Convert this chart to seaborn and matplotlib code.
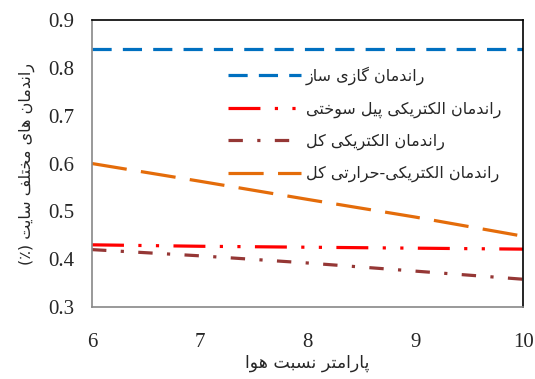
import matplotlib
matplotlib.use("Agg")
import matplotlib.pyplot as plt
import seaborn as sns
import pandas as pd

# ---- data ----
air_ratio = [6, 7, 8, 9, 10]
gas_eff = [0.84, 0.84, 0.84, 0.84, 0.84]
fc_eff = [0.430, 0.427, 0.425, 0.423, 0.421]
total_elec = [0.420, 0.407, 0.392, 0.375, 0.358]
total_chp = [0.600, 0.563, 0.525, 0.488, 0.448]
labels = ["راندمان گازی ساز", "راندمان الکتریکی پیل سوختی",
          "راندمان الکتریکی کل", "راندمان الکتریکی-حرارتی کل"]
xlabel = "پارامتر نسبت هوا"
ylabel = "راندمان های مختلف سایت (٪)"
xticks = [6, 7, 8, 9, 10]
yticks = [0.3, 0.4, 0.5, 0.6, 0.7, 0.8, 0.9]

FORMS = {
    'ا': ('\uFE8D', '\uFE8E', None, None),
    'ب': ('\uFE8F', '\uFE90', '\uFE91', '\uFE92'),
    'پ': ('\uFB56', '\uFB57', '\uFB58', '\uFB59'),
    'ت': ('\uFE95', '\uFE96', '\uFE97', '\uFE98'),
    'ح': ('\uFEA1', '\uFEA2', '\uFEA3', '\uFEA4'),
    'خ': ('\uFEA5', '\uFEA6', '\uFEA7', '\uFEA8'),
    'د': ('\uFEA9', '\uFEAA', None, None),
    'ر': ('\uFEAD', '\uFEAE', None, None),
    'ز': ('\uFEAF', '\uFEB0', None, None),
    'س': ('\uFEB1', '\uFEB2', '\uFEB3', '\uFEB4'),
    'ف': ('\uFED1', '\uFED2', '\uFED3', '\uFED4'),
    'ک': ('\uFB8E', '\uFB8F', '\uFB90', '\uFB91'),
    'گ': ('\uFB92', '\uFB93', '\uFB94', '\uFB95'),
    'ل': ('\uFEDD', '\uFEDE', '\uFEDF', '\uFEE0'),
    'م': ('\uFEE1', '\uFEE2', '\uFEE3', '\uFEE4'),
    'ن': ('\uFEE5', '\uFEE6', '\uFEE7', '\uFEE8'),
    'ه': ('\uFEE9', '\uFEEA', '\uFEEB', '\uFEEC'),
    'و': ('\uFEED', '\uFEEE', None, None),
    'ی': ('\uFBFC', '\uFBFD', '\uFBFE', '\uFBFF'),
}


def shape(s):
    out = []
    n = len(s)
    for i, c in enumerate(s):
        if c not in FORMS:
            out.append(c)
            continue
        f = FORMS[c]
        prev = s[i - 1] if i > 0 else ''
        nxt = s[i + 1] if i + 1 < n else ''
        jp = prev in FORMS and FORMS[prev][2] is not None
        jn = f[2] is not None and nxt in FORMS
        if jp and jn:
            out.append(f[3])
        elif jp:
            out.append(f[1])
        elif jn:
            out.append(f[2])
        else:
            out.append(f[0])
    r = ''.join(reversed(out))
    return r.translate(str.maketrans('()', ')('))


sns.set_theme(style="white")
plt.rcParams['font.family'] = ['DejaVu Sans']

fig = plt.figure(figsize=(5.35, 3.79), dpi=100)
ax = fig.add_axes([0.172, 0.19, 0.806, 0.757])

series = [
    (gas_eff, "#0070C0", (0, (6, 3.5))),
    (fc_eff, "#FF0000", (0, (10, 4.5, 1, 4.5, 1, 4.5))),
    (total_elec, "#953735", (0, (4.5, 4.5, 1, 4.5))),
    (total_chp, "#E46C0A", (0, (11, 4.5))),
]
for (vals, col, ls), lab in zip(series, labels):
    df = pd.DataFrame({"x": air_ratio, "y": vals})
    sns.lineplot(data=df, x="x", y="y", ax=ax, color=col, lw=2.3,
                 linestyle=ls, label=shape(lab))

ax.set_xlim(6, 10)
ax.set_ylim(0.3, 0.9)
ax.set_xticks(xticks)
ax.set_yticks(yticks)
ax.set_xticklabels([str(v) for v in xticks], family="Liberation Serif", fontsize=15)
ax.set_yticklabels([f"{v:.1f}" for v in yticks], family="Liberation Serif", fontsize=15)
ax.tick_params(axis="both", direction="in", length=5, width=1, color="#888888")
ax.tick_params(axis="x", pad=19)
ax.tick_params(axis="y", pad=13)

for side in ["left", "bottom"]:
    ax.spines[side].set_color("#888888")
    ax.spines[side].set_linewidth(1.2)
for side in ["top", "right"]:
    ax.spines[side].set_color("#000000")
    ax.spines[side].set_linewidth(1.2)

ax.set_xlabel(shape(xlabel), fontsize=12.5, labelpad=1)
ax.set_ylabel(shape(ylabel), fontsize=11.5, labelpad=9)

leg = ax.legend(loc="upper left", bbox_to_anchor=(0.30, 0.86), frameon=False,
                handlelength=4.6, labelspacing=1.0, fontsize=11.5,
                handletextpad=0.3, borderaxespad=0)

fig.savefig("out.png", dpi=100)
